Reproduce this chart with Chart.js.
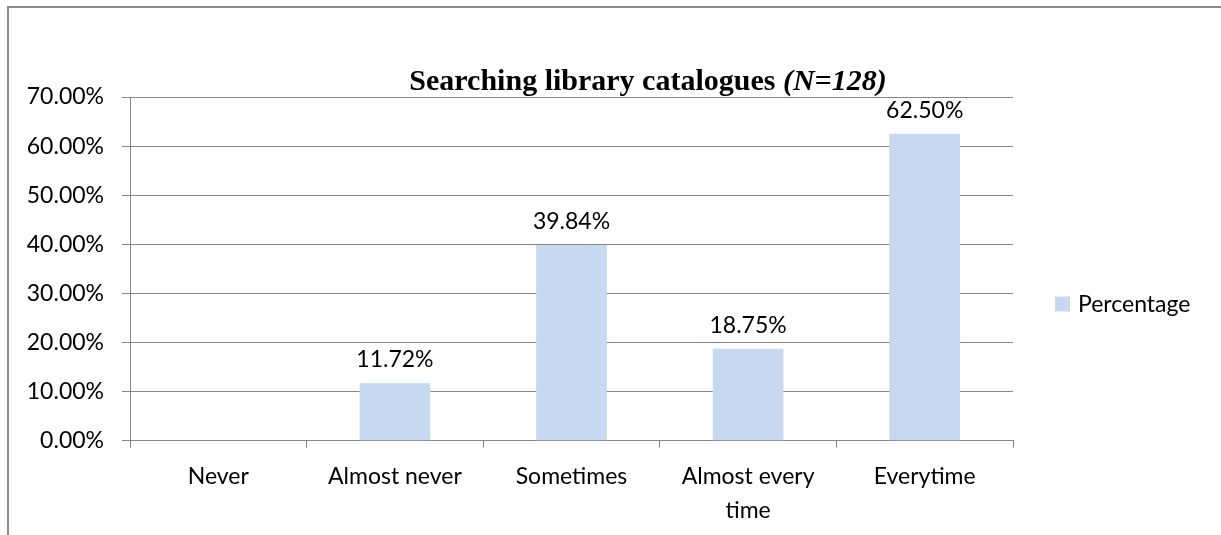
<!DOCTYPE html>
<html>
<head>
<meta charset="utf-8">
<script src="https://cdn.jsdelivr.net/npm/chart.js@4/dist/chart.umd.min.js"></script>
<style>
  html, body { margin: 0; padding: 0; background: #fff; overflow: hidden; }
  #frame {
    position: absolute; left: 7px; top: 6px; width: 1400px; height: 800px;
    border: 2px solid #8a8a8a; box-sizing: border-box;
  }
  #c { position: absolute; left: 0; top: 0; }
</style>
</head>
<body>
<div id="frame"></div>
<canvas id="c" width="1221" height="535"></canvas>
<script>
// Survey answers: how often respondents search library catalogues
const categories = ['Never', 'Almost never', 'Sometimes', ['Almost every', 'time'], 'Everytime'];
const percentages = [null, 11.72, 39.84, 18.75, 62.50];
const seriesName = 'Percentage';
const yTicks = [0, 10, 20, 30, 40, 50, 60, 70];

const FONT = 'Lato, "Liberation Sans", sans-serif';
const FONT_SIZE = 23;
const GRID = '#868686';
const BAR = '#c6d9f1';

// Title with a bold upright part and a bold italic sample size
const titlePlugin = {
  id: 'mixedTitle',
  afterDraw(chart) {
    const ctx = chart.ctx;
    const partA = 'Searching library catalogues ';
    const partB = '(N=128)';
    ctx.save();
    ctx.fillStyle = '#000';
    ctx.textBaseline = 'alphabetic';
    const fA = 'bold 30px "Liberation Serif", "Times New Roman", serif';
    const fB = 'italic bold 30px "Liberation Serif", "Times New Roman", serif';
    ctx.font = fA; const wA = ctx.measureText(partA).width;
    ctx.font = fB; const wB = ctx.measureText(partB).width;
    const cx = 648, y = 90;
    let x = cx - (wA + wB) / 2;
    ctx.textAlign = 'left';
    ctx.font = fA; ctx.fillText(partA, x, y);
    ctx.font = fB; ctx.fillText(partB, x + wA, y);
    ctx.restore();
  }
};

// Value labels above each bar
const valueLabels = {
  id: 'valueLabels',
  afterDatasetsDraw(chart) {
    const ctx = chart.ctx;
    ctx.save();
    ctx.font = FONT_SIZE + 'px ' + FONT;
    ctx.fillStyle = '#000';
    ctx.textAlign = 'center';
    ctx.textBaseline = 'alphabetic';
    chart.data.datasets.forEach((ds, i) => {
      chart.getDatasetMeta(i).data.forEach((bar, j) => {
        const v = ds.data[j];
        if (v === null || v === undefined) return;
        ctx.fillText(v.toFixed(2) + '%', bar.x, bar.y - 16);
      });
    });
    ctx.restore();
  }
};

// Legend entry to the right of the plot
const sideLegend = {
  id: 'sideLegend',
  afterDraw(chart) {
    const ctx = chart.ctx;
    const ds = chart.data.datasets[0];
    ctx.save();
    ctx.fillStyle = ds.backgroundColor;
    ctx.fillRect(1055, 296.5, 15, 15);
    ctx.font = FONT_SIZE + 'px ' + FONT;
    ctx.fillStyle = '#000';
    ctx.textAlign = 'left';
    ctx.textBaseline = 'alphabetic';
    ctx.fillText(ds.label, 1078, 311.5);
    ctx.restore();
  }
};

new Chart(document.getElementById('c'), {
  type: 'bar',
  data: {
    labels: categories,
    datasets: [{
      label: seriesName,
      data: percentages,
      backgroundColor: BAR,
      borderWidth: 0,
      barPercentage: 0.4,
      categoryPercentage: 1.0
    }]
  },
  options: {
    responsive: false,
    animation: false,
    devicePixelRatio: 1,
    layout: { padding: { top: 97, right: 208, left: 0, bottom: 0 } },
    plugins: {
      legend: { display: false },
      title: { display: false },
      tooltip: { enabled: false }
    },
    scales: {
      x: {
        afterFit(scale) { scale.height = 94.3; },
        grid: {
          drawOnChartArea: false,
          drawTicks: true,
          tickLength: 7,
          color: GRID,
          lineWidth: 1,
          offset: true
        },
        border: { display: true, color: GRID, width: 1 },
        ticks: {
          color: '#000',
          padding: 12,
          maxRotation: 0,
          autoSkip: false,
          font: { family: FONT, size: FONT_SIZE, lineHeight: '34px' }
        }
      },
      y: {
        min: 0,
        max: 70,
        afterFit(scale) { scale.width = 130; },
        afterBuildTicks(scale) { scale.ticks = yTicks.map(v => ({ value: v })); },
        grid: {
          drawTicks: true,
          tickLength: 8,
          color: GRID,
          lineWidth: 1
        },
        border: { display: true, color: GRID, width: 1 },
        ticks: {
          color: '#000',
          padding: 18,
          font: { family: FONT, size: FONT_SIZE },
          callback: v => Number(v).toFixed(2) + '%'
        }
      }
    }
  },
  plugins: [titlePlugin, valueLabels, sideLegend]
});
</script>
</body>
</html>
